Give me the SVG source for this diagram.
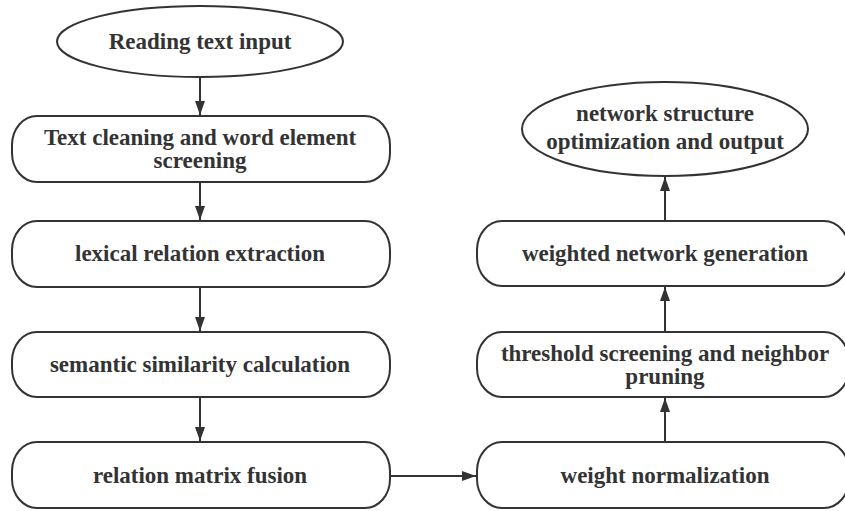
<svg xmlns="http://www.w3.org/2000/svg" width="845" height="511" viewBox="0 0 845 511">
  <style>
    .shape { fill: #ffffff; stroke: #333333; stroke-width: 2; }
    .label { font-family: "Liberation Serif", "Times New Roman", serif; font-weight: bold; font-size: 23px; fill: #333333; text-anchor: middle; }
    .edge { fill: none; stroke: #333333; stroke-width: 2; marker-end: url(#arrow); }
  </style>
  <defs>
    <marker id="arrow" viewBox="0 0 14 10" refX="14" refY="5" markerWidth="14" markerHeight="10" markerUnits="userSpaceOnUse" orient="auto">
      <path d="M0,0 L14,5 L0,10 Z" fill="#333333"/>
    </marker>
  </defs>
  <rect width="845" height="511" fill="#ffffff"/>

  <g id="connectors">
    <line class="edge" x1="200" y1="77" x2="200" y2="115"/>
    <line class="edge" x1="200" y1="182" x2="200" y2="220"/>
    <line class="edge" x1="200" y1="287" x2="200" y2="331"/>
    <line class="edge" x1="200" y1="397" x2="200" y2="441"/>
    <line class="edge" x1="390" y1="476" x2="476" y2="476"/>
    <line class="edge" x1="665" y1="442" x2="665" y2="398"/>
    <line class="edge" x1="665" y1="332" x2="665" y2="287"/>
    <line class="edge" x1="665" y1="221" x2="665" y2="177"/>
  </g>

  <g id="reading-input">
    <ellipse class="shape" cx="200" cy="41.5" rx="143" ry="35.5"/>
    <text class="label" x="200" y="49">Reading text input</text>
  </g>

  <g id="text-cleaning">
    <rect class="shape" x="12" y="116" width="378" height="66" rx="25" ry="29"/>
    <text class="label" x="200" y="145">Text cleaning and word element</text>
    <text class="label" x="200" y="168">screening</text>
  </g>

  <g id="lexical-relation">
    <rect class="shape" x="12" y="221" width="378" height="66" rx="25" ry="29"/>
    <text class="label" x="200" y="261">lexical relation extraction</text>
  </g>

  <g id="semantic-similarity">
    <rect class="shape" x="12" y="332" width="378" height="65" rx="25" ry="29"/>
    <text class="label" x="200" y="372">semantic similarity calculation</text>
  </g>

  <g id="matrix-fusion">
    <rect class="shape" x="12" y="442" width="378" height="66" rx="25" ry="29"/>
    <text class="label" x="200" y="483">relation matrix fusion</text>
  </g>

  <g id="weight-normalization">
    <rect class="shape" x="477" y="442" width="372" height="66" rx="25" ry="29"/>
    <text class="label" x="665" y="483">weight normalization</text>
  </g>

  <g id="threshold-pruning">
    <rect class="shape" x="477" y="332" width="372" height="65" rx="25" ry="29"/>
    <text class="label" x="665" y="361">threshold screening and neighbor</text>
    <text class="label" x="665" y="384">pruning</text>
  </g>

  <g id="network-generation">
    <rect class="shape" x="477" y="221" width="372" height="65" rx="25" ry="29"/>
    <text class="label" x="665" y="261">weighted network generation</text>
  </g>

  <g id="structure-output">
    <ellipse class="shape" cx="665" cy="129" rx="143" ry="47"/>
    <text class="label" x="665" y="121">network structure</text>
    <text class="label" x="665" y="149">optimization and output</text>
  </g>
</svg>
